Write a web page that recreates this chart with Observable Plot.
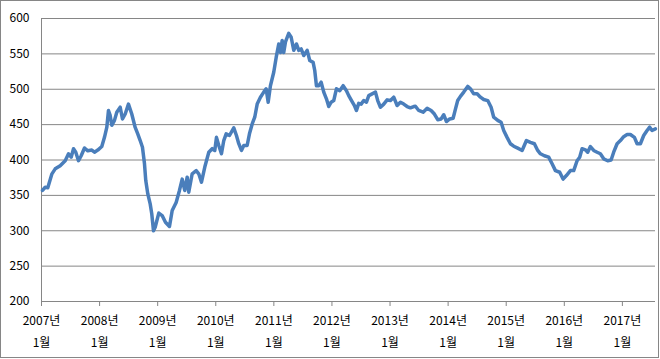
<!DOCTYPE html>
<html><head><meta charset="utf-8">
<script src="https://cdn.jsdelivr.net/npm/d3@7"></script>
<script src="https://cdn.jsdelivr.net/npm/@observablehq/plot@0.6"></script>
<style>body{margin:0;background:#fff}#chart{width:660px;height:359px}</style>
</head><body><div id="chart"></div>
<script>
// time in decimal years
const times = [
2007.017,2007.064,2007.108,2007.177,2007.236,2007.322,2007.408,2007.465,2007.511,2007.551,
2007.590,2007.637,2007.683,2007.740,2007.797,2007.866,2007.912,2007.969,2008.038,2008.084,
2008.124,2008.153,2008.182,2008.210,2008.256,2008.296,2008.355,2008.394,2008.441,2008.497,
2008.554,2008.613,2008.657,2008.699,2008.738,2008.773,2008.795,2008.830,2008.871,2008.898,
2008.928,2008.957,2009.019,2009.077,2009.134,2009.203,2009.250,2009.318,2009.375,2009.422,
2009.466,2009.508,2009.535,2009.594,2009.663,2009.707,2009.754,2009.811,2009.880,2009.938,
2009.983,2010.012,2010.052,2010.098,2010.138,2010.179,2010.236,2010.310,2010.356,2010.396,
2010.442,2010.482,2010.540,2010.580,2010.627,2010.671,2010.713,2010.769,2010.826,2010.867,
2010.902,2010.941,2010.998,2011.040,2011.084,2011.114,2011.143,2011.170,2011.200,2011.256,
2011.298,2011.343,2011.389,2011.429,2011.470,2011.515,2011.573,2011.618,2011.676,2011.704,
2011.733,2011.773,2011.814,2011.859,2011.905,2011.945,2011.986,2012.031,2012.077,2012.134,
2012.193,2012.250,2012.289,2012.330,2012.387,2012.422,2012.461,2012.503,2012.547,2012.594,
2012.634,2012.692,2012.749,2012.788,2012.835,2012.892,2012.950,2013.007,2013.064,2013.122,
2013.179,2013.236,2013.294,2013.351,2013.408,2013.437,2013.494,2013.570,2013.639,2013.707,
2013.764,2013.821,2013.880,2013.924,2013.971,2014.028,2014.086,2014.126,2014.165,2014.212,
2014.269,2014.337,2014.384,2014.441,2014.499,2014.556,2014.613,2014.682,2014.740,2014.785,
2014.854,2014.912,2014.957,2015.015,2015.072,2015.129,2015.198,2015.274,2015.348,2015.417,
2015.485,2015.542,2015.589,2015.657,2015.731,2015.790,2015.847,2015.921,2015.979,2016.036,
2016.105,2016.162,2016.220,2016.265,2016.306,2016.363,2016.403,2016.449,2016.506,2016.565,
2016.621,2016.678,2016.747,2016.806,2016.850,2016.909,2016.966,2017.022,2017.081,2017.138,
2017.207,2017.253,2017.310,2017.367,2017.425,2017.470,2017.511,2017.568
];
const values = [
357,361.5,360.7,380,387.5,392,399,408.8,404,416,
411,399,406,417,413,414,411,414,419,432,
446,470,463,449,456,467.5,474.6,458,465,479,
465,446,437,427.5,418,394.6,371,352,338,324,
300,305,325,321.5,312,306,328.6,340,357,373,
357,375.7,354.5,380.5,385,380.5,368.6,390,411,416,
413.5,432,420.5,408.8,427.5,437,434.6,445.5,434.6,423,
413.5,420.5,420.5,437,451,460.5,479,488.8,496,500.6,
481.7,505,524,545,564,552,569,552,567,579,
573.5,555,564,555,557,547.7,555,540.6,538,526.5,
505,505,510,496,486.5,475.6,481.7,484,500.6,498,
505,498,491,485,477,470,480,479,484,481.7,
491,493.5,496,484,474.6,479,485,484,488.8,477,
481.7,479,475.6,473.7,475.6,476,470,467.5,473,470,
465,457,458,464,454.4,458,459,472,484,490,
496,504,500.6,493.5,493.5,488.8,485.5,484,474.6,460.5,
456,453.4,441.7,432,423,419.5,416.7,413.5,427.5,425,
423,413.5,408.8,406,404,394.6,385,382.7,373,378,
385,385,399,404,416,414.4,411,419,413.5,411,
408.8,401.7,399,400,411,423,427.5,433,436,436,
432,423,423,434.6,441.7,446.4,441.7,444
];
const yTicks = [200,250,300,350,400,450,500,550,600];
const xTicks = [2007,2008,2009,2010,2011,2012,2013,2014,2015,2016,2017];
const yearLabels = ["2007년","2008년","2009년","2010년","2011년","2012년","2013년","2014년","2015년","2016년","2017년"];
const monthLabel = "1월";

const data = times.map((t, i) => ({t, v: values[i]}));
const font = '"Noto Sans CJK KR", "Noto Sans", sans-serif';

const chart = Plot.plot({
  width: 660, height: 359,
  marginLeft: 41, marginRight: 5, marginTop: 18, marginBottom: 58,
  style: {fontFamily: font, fontSize: "12px", color: "#000", background: "#fff", overflow: "visible"},
  x: {type: "linear", domain: [2007, 2017.57], label: null},
  y: {domain: [200, 600], label: null},
  marks: [
    Plot.gridY(yTicks, {stroke: "#868686", strokeOpacity: 1}),
    Plot.ruleX([2007], {stroke: "#868686"}),
    Plot.axisY(yTicks, {tickSize: 0, tickPadding: 12, tickFormat: d => String(d), fill: "#000", fontSize: 12, label: null}),
    Plot.axisX(xTicks, {tickSize: 5, tickPadding: 10, stroke: "#868686", fill: "#000", fontSize: 12, label: null,
      tickFormat: d => yearLabels[xTicks.indexOf(d)]}),
    Plot.axisX(xTicks, {tickSize: 0, tickPadding: 37, fill: "#000", fontSize: 12, label: null,
      tickFormat: () => monthLabel}),
    Plot.line(data, {x: "t", y: "v", stroke: "#4A7EBB", strokeWidth: 3.5, strokeLinejoin: "round", strokeLinecap: "round"})
  ]
});
d3.select(chart).append("rect")
  .attr("x", 0.5).attr("y", 0.5).attr("width", 658).attr("height", 357)
  .attr("fill", "none").attr("stroke", "#868686");
document.getElementById("chart").appendChild(chart);
</script>
</body></html>
